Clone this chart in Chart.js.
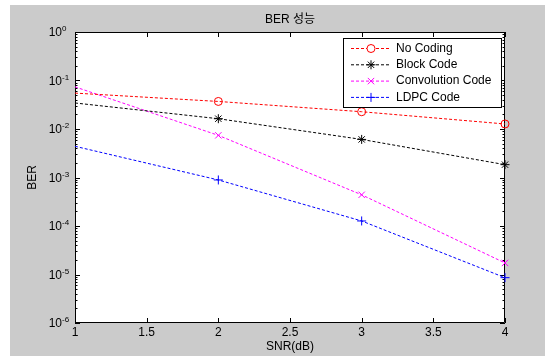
<!DOCTYPE html>
<html>
<head>
<meta charset="utf-8">
<script src="https://cdn.jsdelivr.net/npm/chart.js@4"></script>
<style>
  html, body { margin: 0; padding: 0; background: #ffffff; }
  #wrap { width: 550px; height: 356px; }
</style>
</head>
<body>
<div id="wrap"><canvas id="berChart" width="550" height="356"></canvas></div>
<script>
// SNR points (dB)
const snr = [1, 2, 3, 4];

// BER per scheme
const noCoding    = [0.055, 0.037, 0.0227, 0.0127];
const blockCode   = [0.0344, 0.0163, 0.0061, 0.00184];
const convCode    = [0.074, 0.0074, 0.00044, 0.0000173];
const ldpcCode    = [0.0044, 0.00089, 0.000127, 0.0000086];

const seriesNames = ["No Coding", "Block Code", "Convolution Code", "LDPC Code"];

// axis ticks
const xTicks = [1, 1.5, 2, 2.5, 3, 3.5, 4];
const yExponents = [0, -1, -2, -3, -4, -5, -6];

const FONT = '"Liberation Sans", Arial, sans-serif';

function toPoints(vals) {
    return snr.map((x, i) => ({ x: x, y: vals[i] }));
}

function makeSet(label, vals, color, style) {
    const r = style === "circle" ? 4 : 4.5;
    return {
        label: label,
        data: toPoints(vals),
        borderColor: color,
        borderWidth: 1,
        borderDash: [3, 2],
        pointStyle: style,
        legendRadius: r,
        // the first point (SNR = 1) has no marker in the original
        pointRadius: snr.map((x, i) => (i === 0 ? 0 : r)),
        pointBorderColor: color,
        pointBackgroundColor: "rgba(0,0,0,0)",
        pointBorderWidth: 1,
        fill: false,
        tension: 0,
        clip: false
    };
}

// MATLAB-style frame, ticks and labels
const matlabFrame = {
    id: "matlabFrame",
    beforeDraw(chart) {
        const c = chart.ctx;
        const a = chart.chartArea;
        c.save();
        c.fillStyle = "#ffffff";
        c.fillRect(0, 0, chart.width, chart.height);
        c.fillStyle = "#cbcbcb";
        c.fillRect(10, 5, 535, 351);
        c.fillStyle = "#ffffff";
        c.fillRect(a.left, a.top, a.right - a.left, a.bottom - a.top);
        c.restore();
    },
    beforeDatasetsDraw(chart) {
        const c = chart.ctx;
        const a = chart.chartArea;
        const xs = chart.scales.x;
        const ys = chart.scales.y;
        c.save();
        c.strokeStyle = "#000000";
        c.lineWidth = 1;
        c.beginPath();
        c.rect(a.left + 0.5, a.top + 0.5, a.right - a.left - 1, a.bottom - a.top - 1);
        c.stroke();

        // x ticks, inward, top and bottom
        c.beginPath();
        xTicks.forEach(v => {
            const px = Math.round(xs.getPixelForValue(v)) + 0.5;
            c.moveTo(px, a.bottom);
            c.lineTo(px, a.bottom - 5);
            c.moveTo(px, a.top);
            c.lineTo(px, a.top + 5);
        });
        // y ticks: majors per decade, minors 2..9
        yExponents.forEach(e => {
            const py = Math.round(ys.getPixelForValue(Math.pow(10, e))) + 0.5;
            c.moveTo(a.left, py);
            c.lineTo(a.left + 5, py);
            c.moveTo(a.right, py);
            c.lineTo(a.right - 5, py);
            if (e < 0) {
                for (let m = 2; m <= 9; m++) {
                    const my = Math.round(ys.getPixelForValue(m * Math.pow(10, e))) + 0.5;
                    c.moveTo(a.left, my);
                    c.lineTo(a.left + 2.5, my);
                    c.moveTo(a.right, my);
                    c.lineTo(a.right - 2.5, my);
                }
            }
        });
        c.stroke();

        // x tick labels
        c.fillStyle = "#000000";
        c.font = "12px " + FONT;
        c.textAlign = "center";
        c.textBaseline = "middle";
        xTicks.forEach(v => {
            c.fillText(String(v), xs.getPixelForValue(v), a.bottom + 10);
        });

        // y tick labels 10^e
        yExponents.forEach(e => {
            const py = ys.getPixelForValue(Math.pow(10, e));
            c.font = "12px " + FONT;
            c.textAlign = "right";
            c.textBaseline = "middle";
            c.fillText("10", 62, py + 1);
            c.font = "8px " + FONT;
            c.textAlign = "left";
            c.textBaseline = "alphabetic";
            c.fillText(String(e), 62, py - 1);
        });

        // title and axis labels
        c.font = "12px " + FONT + ', "Noto Sans CJK KR"';
        c.textAlign = "center";
        c.textBaseline = "middle";
        c.fillText("BER 성능", (a.left + a.right) / 2, 20);
        c.font = "12px " + FONT;
        c.fillText("SNR(dB)", (a.left + a.right) / 2, 347);
        c.translate(33, (a.top + a.bottom) / 2);
        c.rotate(-Math.PI / 2);
        c.fillText("BER", 0, 0);
        c.restore();
    },
    afterDraw(chart) {
        // boxed legend in top-right corner
        const c = chart.ctx;
        const bx = 343, by = 38, bw = 158, bh = 69;
        c.save();
        c.fillStyle = "#ffffff";
        c.fillRect(bx, by, bw, bh);
        c.strokeStyle = "#000000";
        c.lineWidth = 1;
        c.strokeRect(bx + 0.5, by + 0.5, bw, bh);
        chart.data.datasets.forEach((ds, i) => {
            const ry = by + 10.5 + i * 16.3;
            c.strokeStyle = ds.borderColor;
            c.setLineDash([3, 2]);
            c.beginPath();
            c.moveTo(351, ry);
            c.lineTo(391, ry);
            c.stroke();
            c.setLineDash([]);
            Chart.helpers.drawPoint(c, {
                pointStyle: ds.pointStyle,
                radius: ds.legendRadius,
                borderWidth: 1,
                rotation: 0
            }, 371, ry);
            c.fillStyle = "#000000";
            c.font = "12px " + FONT;
            c.textAlign = "left";
            c.textBaseline = "middle";
            c.fillText(ds.label, 396, ry);
        });
        c.restore();
    }
};

const ctx = document.getElementById("berChart").getContext("2d");
new Chart(ctx, {
    type: "line",
    data: {
        datasets: [
            makeSet(seriesNames[0], noCoding, "#ff0000", "circle"),
            makeSet(seriesNames[1], blockCode, "#000000", "star"),
            makeSet(seriesNames[2], convCode, "#ff00ff", "crossRot"),
            makeSet(seriesNames[3], ldpcCode, "#0000ff", "cross")
        ]
    },
    options: {
        responsive: false,
        animation: false,
        layout: { padding: { left: 75, top: 32, right: 45, bottom: 33 } },
        scales: {
            x: { type: "linear", min: 1, max: 4, display: false },
            y: { type: "logarithmic", min: 1e-6, max: 1, display: false }
        },
        plugins: {
            legend: { display: false },
            tooltip: { enabled: false }
        }
    },
    plugins: [matlabFrame]
});
</script>
</body>
</html>
